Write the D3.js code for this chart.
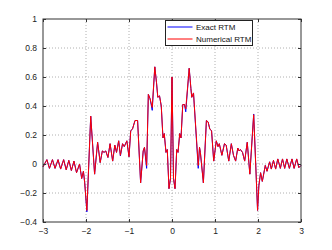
<!DOCTYPE html>
<html>
<head>
<meta charset="utf-8">
<script src="https://cdn.jsdelivr.net/npm/d3@7"></script>
<style>
  body { margin: 0; background: #fff; }
  svg { display: block; font-family: "Liberation Sans", Arial, sans-serif; }
</style>
</head>
<body>
<svg id="chart" width="332" height="250"></svg>
<script>
// x positions of the traced points
var xs = [
  -3.00, -2.91, -2.85, -2.78, -2.72, -2.65, -2.59, -2.52, -2.46, -2.40,
  -2.34, -2.28, -2.22, -2.15, -2.10, -2.06, -2.03, -1.98, -1.89, -1.80,
  -1.73, -1.67, -1.62, -1.58, -1.54, -1.49, -1.44, -1.38, -1.33, -1.29,
  -1.24, -1.20, -1.15, -1.11, -1.05, -1.00, -0.96, -0.92, -0.86, -0.80,
  -0.73, -0.67, -0.64, -0.59, -0.55, -0.51, -0.46, -0.40, -0.36, -0.33,
  -0.29, -0.25, -0.21, -0.18, -0.14, -0.11, -0.07, -0.035, 0.00, 0.035,
  0.07, 0.11, 0.14, 0.18, 0.21, 0.25, 0.29, 0.32, 0.40, 0.44,
  0.46, 0.50, 0.61, 0.64, 0.66, 0.73, 0.80, 0.84, 0.88, 0.92,
  0.97, 1.03, 1.07, 1.10, 1.16, 1.22, 1.26, 1.32, 1.38, 1.43,
  1.48, 1.53, 1.56, 1.59, 1.64, 1.69, 1.75, 1.81, 1.90, 1.99,
  2.02, 2.06, 2.10, 2.17, 2.21, 2.27, 2.31, 2.36, 2.41, 2.46,
  2.52, 2.57, 2.62, 2.67, 2.73, 2.79, 2.84, 2.90, 2.95, 3.00
];
var exactRTM = [
  -0.02, 0.03, -0.03, 0.03, -0.03, 0.03, -0.035, 0.03, -0.04, 0.025,
  -0.045, 0.02, -0.06, 0.00, -0.10, -0.05, -0.13, -0.33, 0.33, -0.07,
  0.15, 0.01, 0.09, 0.08, 0.09, 0.045, 0.14, 0.02, 0.13, 0.08,
  0.16, 0.055, 0.14, 0.12, 0.16, 0.05, 0.23, 0.24, 0.30, 0.30,
  -0.13, 0.09, 0.115, -0.03, 0.48, 0.45, 0.37, 0.67, 0.56, 0.46,
  0.47, 0.40, 0.18, 0.21, 0.08, 0.10, -0.17, -0.10, 0.60, -0.10,
  -0.17, 0.10, 0.08, 0.21, 0.18, 0.41, 0.41, 0.36, 0.66, 0.52,
  0.46, 0.49, -0.03, 0.115, 0.08, -0.13, 0.30, 0.29, 0.24, 0.23,
  0.02, 0.16, 0.12, 0.14, 0.06, 0.14, 0.13, 0.02, 0.14, 0.06,
  0.02, 0.11, 0.09, 0.10, 0.08, 0.02, 0.15, -0.07, 0.345, -0.32,
  -0.15, -0.06, -0.12, -0.01, -0.05, 0.015, -0.035, 0.025, -0.035, 0.035,
  -0.03, 0.035, -0.03, 0.035, -0.03, 0.035, -0.03, 0.035, -0.025, -0.01
];
var numericalRTM = [
  -0.02, 0.03, -0.03, 0.03, -0.03, 0.03, -0.035, 0.03, -0.04, 0.025,
  -0.045, 0.02, -0.06, 0.00, -0.10, -0.05, -0.13, -0.32, 0.33, -0.07,
  0.15, 0.01, 0.09, 0.08, 0.09, 0.045, 0.14, 0.02, 0.13, 0.08,
  0.16, 0.06, 0.14, 0.12, 0.16, 0.05, 0.23, 0.24, 0.30, 0.30,
  -0.13, 0.09, 0.115, -0.01, 0.48, 0.45, 0.39, 0.67, 0.56, 0.46,
  0.47, 0.40, 0.18, 0.21, 0.08, 0.10, -0.17, -0.10, 0.60, -0.10,
  -0.17, 0.10, 0.08, 0.21, 0.18, 0.41, 0.41, 0.38, 0.66, 0.52,
  0.46, 0.49, -0.01, 0.115, 0.08, -0.13, 0.30, 0.29, 0.24, 0.23,
  0.02, 0.16, 0.12, 0.14, 0.06, 0.14, 0.13, 0.02, 0.14, 0.06,
  0.02, 0.11, 0.09, 0.10, 0.08, 0.02, 0.15, -0.07, 0.34, -0.32,
  -0.15, -0.06, -0.12, -0.01, -0.05, 0.015, -0.035, 0.025, -0.035, 0.035,
  -0.03, 0.035, -0.03, 0.035, -0.03, 0.035, -0.03, 0.035, -0.025, -0.01
];
var xTicks = [-3, -2, -1, 0, 1, 2, 3];
var yTicks = [-0.4, -0.2, 0, 0.2, 0.4, 0.6, 0.8, 1];
var seriesNames = ["Exact RTM", "Numerical RTM"];
var seriesColors = ["#0000ff", "#ff0000"];

var margin = {top: 19, right: 31, bottom: 28, left: 43};
var width = 332, height = 250;
var w = width - margin.left - margin.right;
var h = height - margin.top - margin.bottom;

var svg = d3.select("#chart");
var g = svg.append("g")
    .attr("transform", "translate(" + margin.left + "," + margin.top + ")");

var x = d3.scaleLinear().domain([-3, 3]).range([0, w]);
var y = d3.scaleLinear().domain([-0.4, 1]).range([h, 0]);

// dotted grid
g.append("g").selectAll("line")
    .data(xTicks.slice(1, -1))
    .enter().append("line")
    .attr("x1", d => x(d)).attr("x2", d => x(d))
    .attr("y1", 0).attr("y2", h)
    .attr("stroke", "#b0b0b0").attr("stroke-width", 1)
    .attr("stroke-dasharray", "1,2");
g.append("g").selectAll("line")
    .data(yTicks.slice(1, -1))
    .enter().append("line")
    .attr("x1", 0).attr("x2", w)
    .attr("y1", d => y(d)).attr("y2", d => y(d))
    .attr("stroke", "#b0b0b0").attr("stroke-width", 1)
    .attr("stroke-dasharray", "1,2");

var line = d3.line()
    .x((d, i) => x(xs[i]))
    .y(d => y(d));

g.append("path")
    .datum(exactRTM)
    .attr("fill", "none")
    .attr("stroke", seriesColors[0])
    .attr("stroke-width", 1)
    .attr("d", line);
g.append("path")
    .datum(numericalRTM)
    .attr("fill", "none")
    .attr("stroke", seriesColors[1])
    .attr("stroke-width", 1)
    .attr("d", line);

// axes, ticks inward on all sides
var fmt = d3.format("");
var xAxisB = d3.axisBottom(x).tickValues(xTicks).tickSizeInner(-3).tickSizeOuter(0).tickPadding(6).tickFormat(fmt);
var xAxisT = d3.axisTop(x).tickValues(xTicks).tickSizeInner(-3).tickSizeOuter(0).tickFormat("");
var yAxisL = d3.axisLeft(y).tickValues(yTicks).tickSizeInner(-3).tickSizeOuter(0).tickPadding(6).tickFormat(fmt);
var yAxisR = d3.axisRight(y).tickValues(yTicks).tickSizeInner(-3).tickSizeOuter(0).tickFormat("");

function styleAxis(sel) {
  sel.select(".domain").remove();
  sel.selectAll("line").attr("stroke", "#333");
  sel.selectAll("text").attr("fill", "#222").attr("font-size", "8.5px")
     .attr("font-family", "Liberation Sans, Arial, sans-serif");
}
g.append("g").attr("transform", "translate(0," + h + ")").call(xAxisB).call(styleAxis);
g.append("g").call(xAxisT).call(styleAxis);
g.append("g").call(yAxisL).call(styleAxis);
g.append("g").attr("transform", "translate(" + w + ",0)").call(yAxisR).call(styleAxis);

g.append("rect")
    .attr("width", w).attr("height", h)
    .attr("fill", "none").attr("stroke", "#333").attr("stroke-width", 1);

// legend
var legend = svg.append("g").attr("transform", "translate(165.5,20.5)");
legend.append("rect")
    .attr("width", 87).attr("height", 25)
    .attr("fill", "#fff").attr("stroke", "#222").attr("stroke-width", 1);
var items = legend.selectAll(".item")
    .data(seriesNames)
    .enter().append("g")
    .attr("class", "item")
    .attr("transform", (d, i) => "translate(0," + (6.5 + i * 12) + ")");
items.append("line")
    .attr("x1", 2).attr("x2", 27)
    .attr("stroke", (d, i) => seriesColors[i]).attr("stroke-width", 1);
items.append("text")
    .attr("x", 30.5).attr("y", 3)
    .attr("font-size", "8px")
    .attr("fill", "#111")
    .text(d => d);
</script>
</body>
</html>
